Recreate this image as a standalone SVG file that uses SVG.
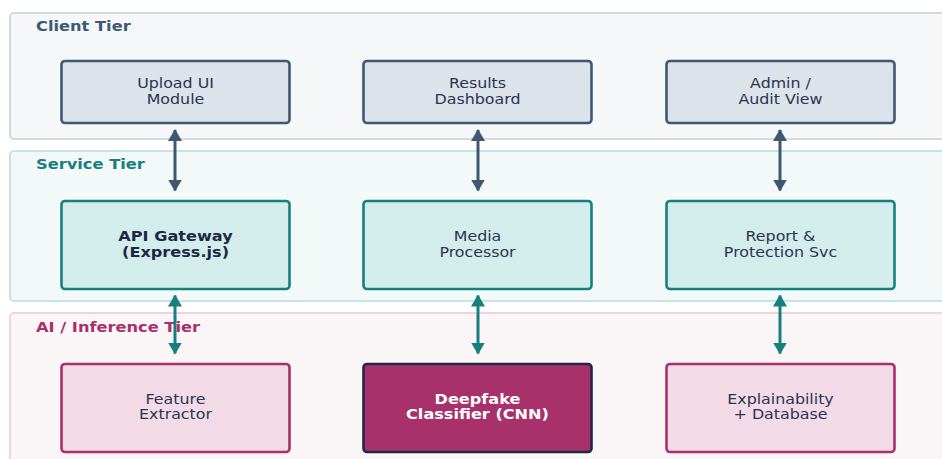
<svg xmlns="http://www.w3.org/2000/svg" width="942" height="459" viewBox="0 0 942 459">
  <defs>
    <style>
      .tier { stroke-width: 2; }
      .tier-client { fill: #f6f7f9; stroke: #d4d9df; }
      .tier-service { fill: #f3f9f9; stroke: #c7e3e3; }
      .tier-ai { fill: #faf5f7; stroke: #efd3de; }
      .tlabel { font-family: "DejaVu Sans", sans-serif; font-weight: bold; font-size: 14px; }
      .box { stroke-width: 2.6; }
      .client { fill: #dce3ea; stroke: #3e5872; }
      .service { fill: #d3ecec; stroke: #17807f; }
      .ai { fill: #f2dbe6; stroke: #a8306b; }
      .core { fill: #a8306b; stroke: #1e2844; }
      .label { font-family: "DejaVu Sans", sans-serif; font-size: 13.9px; fill: #2b3450; text-anchor: middle; }
      .bold { font-weight: bold; fill: #1e2844; }
      .light { fill: #ffffff; }
      .link { stroke-width: 3; fill: none; }
      .slate { stroke: #3e5872; }
      .teal { stroke: #17807f; }
    </style>
    <marker id="headSlate" markerUnits="userSpaceOnUse" viewBox="0 0 12 14" refX="11" refY="7" markerWidth="12" markerHeight="14" orient="auto-start-reverse">
      <path d="M0,0 L12,7 L0,14 Z" fill="#3e5872"/>
    </marker>
    <marker id="headTeal" markerUnits="userSpaceOnUse" viewBox="0 0 12 14" refX="11" refY="7" markerWidth="12" markerHeight="14" orient="auto-start-reverse">
      <path d="M0,0 L12,7 L0,14 Z" fill="#17807f"/>
    </marker>
  </defs>

  <rect width="942" height="459" fill="#ffffff"/>

  <!-- tier bands -->
  <g id="tier-client">
    <rect class="tier tier-client" x="10" y="13" width="960" height="126" rx="4"/>
    <text class="tlabel" fill="#3e5872" transform="translate(36,31) scale(1.16,1)">Client Tier</text>
  </g>
  <g id="tier-service">
    <rect class="tier tier-service" x="10" y="151" width="960" height="150" rx="4"/>
    <text class="tlabel" fill="#17807f" transform="translate(36,168.5) scale(1.16,1)">Service Tier</text>
  </g>
  <g id="tier-ai">
    <rect class="tier tier-ai" x="10" y="313" width="960" height="170" rx="4"/>
    <text class="tlabel" fill="#a8306b" transform="translate(36,332) scale(1.16,1)">AI / Inference Tier</text>
  </g>

  <!-- connectors -->
  <g id="connectors">
    <line class="link slate" x1="175" y1="130" x2="175" y2="190.5" marker-start="url(#headSlate)" marker-end="url(#headSlate)"/>
    <line class="link slate" x1="478" y1="130" x2="478" y2="190.5" marker-start="url(#headSlate)" marker-end="url(#headSlate)"/>
    <line class="link slate" x1="780" y1="130" x2="780" y2="190.5" marker-start="url(#headSlate)" marker-end="url(#headSlate)"/>
    <line class="link teal" x1="175" y1="295.5" x2="175" y2="353.5" marker-start="url(#headTeal)" marker-end="url(#headTeal)"/>
    <line class="link teal" x1="478" y1="295.5" x2="478" y2="353.5" marker-start="url(#headTeal)" marker-end="url(#headTeal)"/>
    <line class="link teal" x1="780" y1="295.5" x2="780" y2="353.5" marker-start="url(#headTeal)" marker-end="url(#headTeal)"/>
  </g>

  <!-- client tier nodes -->
  <g id="upload-ui">
    <rect class="box client" x="61.5" y="61" width="228" height="62" rx="3.5"/>
    <text class="label" transform="translate(175.5,88) scale(1.14,1)">Upload UI</text>
    <text class="label" transform="translate(175.5,103.5) scale(1.14,1)">Module</text>
  </g>
  <g id="results-dashboard">
    <rect class="box client" x="363.5" y="61" width="228" height="62" rx="3.5"/>
    <text class="label" transform="translate(477.5,88) scale(1.14,1)">Results</text>
    <text class="label" transform="translate(477.5,103.5) scale(1.14,1)">Dashboard</text>
  </g>
  <g id="admin-audit">
    <rect class="box client" x="666.5" y="61" width="228" height="62" rx="3.5"/>
    <text class="label" transform="translate(780.5,88) scale(1.14,1)">Admin /</text>
    <text class="label" transform="translate(780.5,103.5) scale(1.14,1)">Audit View</text>
  </g>

  <!-- service tier nodes -->
  <g id="api-gateway">
    <rect class="box service" x="61.5" y="201" width="228" height="88" rx="3.5"/>
    <text class="label bold" transform="translate(175.5,241) scale(1.16,1)">API Gateway</text>
    <text class="label bold" transform="translate(175.5,256.5) scale(1.16,1)">(Express.js)</text>
  </g>
  <g id="media-processor">
    <rect class="box service" x="363.5" y="201" width="228" height="88" rx="3.5"/>
    <text class="label" transform="translate(477.5,241) scale(1.14,1)">Media</text>
    <text class="label" transform="translate(477.5,256.5) scale(1.14,1)">Processor</text>
  </g>
  <g id="report-protection">
    <rect class="box service" x="666.5" y="201" width="228" height="88" rx="3.5"/>
    <text class="label" transform="translate(780.5,241) scale(1.14,1)">Report &amp;</text>
    <text class="label" transform="translate(780.5,256.5) scale(1.14,1)">Protection Svc</text>
  </g>

  <!-- inference tier nodes -->
  <g id="feature-extractor">
    <rect class="box ai" x="61.5" y="364" width="228" height="88" rx="3.5"/>
    <text class="label" transform="translate(175.5,403.5) scale(1.14,1)">Feature</text>
    <text class="label" transform="translate(175.5,419) scale(1.14,1)">Extractor</text>
  </g>
  <g id="deepfake-classifier">
    <rect class="box core" x="363.5" y="364" width="228" height="88" rx="3.5"/>
    <text class="label bold light" transform="translate(477.5,403.5) scale(1.16,1)">Deepfake</text>
    <text class="label bold light" transform="translate(477.5,419) scale(1.16,1)">Classifier (CNN)</text>
  </g>
  <g id="explainability-db">
    <rect class="box ai" x="666.5" y="364" width="228" height="88" rx="3.5"/>
    <text class="label" transform="translate(780.5,403.5) scale(1.14,1)">Explainability</text>
    <text class="label" transform="translate(780.5,419) scale(1.14,1)">+ Database</text>
  </g>
</svg>
